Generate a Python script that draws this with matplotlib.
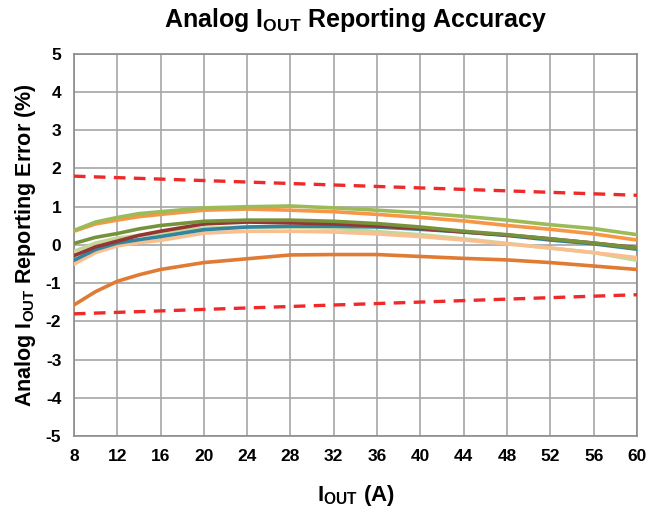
import numpy as np
import matplotlib
matplotlib.use("Agg")
from matplotlib import pyplot as plt

plt.rcParams['font.family'] = ['Liberation Sans', 'DejaVu Sans']
plt.rcParams['font.weight'] = 'bold'
plt.rcParams['mathtext.fontset'] = 'custom'
plt.rcParams['mathtext.rm'] = 'Liberation Sans:bold'
plt.rcParams['mathtext.bf'] = 'Liberation Sans:bold'
plt.rcParams['axes.unicode_minus'] = False

# current points (A)
iout = [8, 10, 12, 14, 16, 20, 24, 28, 32, 36, 40, 44, 48, 52, 56, 60]

# reporting error (%) for each unit
err_green = [0.38, 0.6, 0.72, 0.82, 0.87, 0.97, 1.0, 1.02, 0.97, 0.91, 0.84, 0.75, 0.65, 0.53, 0.43, 0.27]
err_orange = [0.36, 0.55, 0.65, 0.74, 0.8, 0.91, 0.94, 0.91, 0.87, 0.8, 0.72, 0.63, 0.51, 0.41, 0.29, 0.13]
err_olive = [0.04, 0.2, 0.3, 0.42, 0.51, 0.62, 0.65, 0.65, 0.62, 0.56, 0.47, 0.36, 0.27, 0.16, 0.05, -0.08]
err_red = [-0.28, -0.05, 0.1, 0.25, 0.36, 0.55, 0.6, 0.58, 0.55, 0.5, 0.43, 0.34, 0.26, 0.16, 0.05, -0.07]
err_teal = [-0.4, -0.12, 0.05, 0.14, 0.22, 0.4, 0.47, 0.49, 0.49, 0.47, 0.41, 0.34, 0.25, 0.13, 0.03, -0.11]
err_pale = [-0.17, 0.05, 0.18, 0.25, 0.31, 0.44, 0.47, 0.47, 0.44, 0.35, 0.27, 0.16, 0.04, -0.08, -0.2, -0.4]
err_salmon = [-0.5, -0.2, -0.02, 0.06, 0.12, 0.31, 0.36, 0.36, 0.34, 0.29, 0.22, 0.13, 0.03, -0.08, -0.2, -0.33]
err_dkorange = [-1.57, -1.22, -0.95, -0.78, -0.64, -0.46, -0.36, -0.26, -0.25, -0.25, -0.3, -0.35, -0.39, -0.46, -0.55, -0.64]

series = [
    (err_pale, '#c4d79b'),
    (err_salmon, '#fabf8f'),
    (err_teal, '#31859c'),
    (err_red, '#963634'),
    (err_olive, '#76933c'),
    (err_dkorange, '#e07b34'),
    (err_orange, '#f79646'),
    (err_green, '#9bbb59'),
]

# spec limits (%)
limit_x = [8, 60]
limit_hi = [1.8, 1.3]
limit_lo = [-1.8, -1.3]

fig = plt.figure(figsize=(6.48, 5.12), dpi=100)
ax = fig.add_axes([0.114, 0.148, 0.869, 0.747])

for y, c in series:
    ax.plot(iout, y, color=c, lw=2.6, solid_capstyle='round', zorder=3)

ax.plot(limit_x, limit_hi, color='#ee2a2a', lw=2.4, dashes=(3.5, 2.5), zorder=4)
ax.plot(limit_x, limit_lo, color='#ee2a2a', lw=2.4, dashes=(3.5, 2.5), zorder=4)

ax.set_xlim(8, 60)
ax.set_ylim(-5, 5)
ax.set_xticks(np.arange(8, 61, 4))
ax.set_yticks(np.arange(-5, 6, 1))
ax.grid(True, color='#a6a6a6', lw=1.2)
ax.set_axisbelow(True)
for s in ax.spines.values():
    s.set_color('#8c8c8c')
    s.set_linewidth(1.2)
ax.tick_params(length=0, labelsize=12.5, pad=9)
for t in ax.get_xticklabels() + ax.get_yticklabels():
    t.set_fontweight('bold')

ax.set_title(r'Analog I$_\mathbf{OUT}$ Reporting Accuracy', fontsize=18, fontweight='bold', pad=19)
ax.set_xlabel(r'I$_\mathbf{OUT}$ (A)', fontsize=16, fontweight='bold', labelpad=14)
ax.set_ylabel(r'Analog I$_\mathbf{OUT}$ Reporting Error (%)', fontsize=15.5, fontweight='bold', labelpad=6)

fig.savefig('out.png', dpi=100)
